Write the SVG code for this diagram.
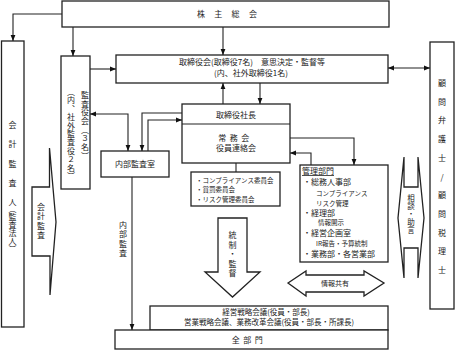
<svg xmlns="http://www.w3.org/2000/svg" width="456" height="351" viewBox="0 0 456 351">
<style>
.b{fill:#fff;stroke:#222;stroke-width:1.3}
.c{fill:none;stroke:#222;stroke-width:1.1}
.t{font-family:"Noto Sans CJK JP","Noto Sans",sans-serif;font-size:8px;fill:#222}
.s{font-size:6.5px}
.m{text-anchor:middle}
.v{writing-mode:vertical-rl;text-orientation:upright}
</style>
<defs>
<marker id="ah" viewBox="0 0 10 10" refX="10" refY="5" markerWidth="6" markerHeight="6" markerUnits="userSpaceOnUse" orient="auto-start-reverse"><path d="M0,1 L10,5 L0,9z" fill="#111"/></marker>
</defs>
<rect width="456" height="351" fill="#fff"/>

<g id="kabunushi">
<rect class="b" x="62" y="1" width="327" height="26"/>
<text class="t" x="197" y="17" letter-spacing="9.3">株主総会</text>
</g>

<g id="kaikei-kansanin">
<rect class="b" x="1.5" y="41" width="22.5" height="286"/>
<text class="t v" x="12.5" y="121" letter-spacing="11.3">会計監査人</text>
<text class="t v" x="12.5" y="205">（監査法人）</text>
</g>

<g id="kansayakukai">
<rect class="b" x="61" y="56" width="29" height="133"/>
<text class="t v" x="85" y="91" letter-spacing="0.7">監査役会（３名）</text>
<text class="t v" x="71" y="88" letter-spacing="0.4">（内、社外監査役２名）</text>
</g>

<g id="torishimariyakukai">
<rect class="b" x="116" y="55" width="272" height="28"/>
<text class="t m" x="252" y="65">取締役会(取締役7名)　意思決定・監督等</text>
<text class="t m" x="251" y="76">(内、社外取締役1名)</text>
</g>

<g id="komon">
<rect class="b" x="430" y="42" width="24" height="267"/>
<text class="t v" x="442" y="79" letter-spacing="10.7">顧問弁護士/顧問税理士</text>
</g>

<g id="shacho">
<rect class="b" x="182" y="104" width="108" height="59"/>
<line class="c" x1="182" y1="124" x2="290" y2="124"/>
<text class="t m" x="236" y="117.5">取締役社長</text>
<text class="t m" x="235.5" y="141" letter-spacing="3.5">常務会</text>
<text class="t m" x="236" y="151">役員連絡会</text>
</g>

<g id="iinkai">
<rect class="b" x="191" y="172" width="89" height="34"/>
<text class="t s" x="196" y="182.5">・コンプライアンス委員会</text>
<text class="t s" x="196" y="192">・賞罰委員会</text>
<text class="t s" x="196" y="201.5">・リスク管理委員会</text>
</g>

<g id="naibu-kansashitsu">
<rect class="b" x="101" y="151" width="68" height="26"/>
<text class="t m" x="135" y="167">内部監査室</text>
</g>

<g id="kanri-bumon">
<rect class="b" x="300" y="165" width="88" height="97"/>
<text class="t" x="302" y="174" text-decoration="underline">管理部門</text>
<text class="t" x="303" y="185">・総務人事部</text>
<text class="t s" x="316" y="195.5">コンプライアンス</text>
<text class="t s" x="316" y="205.5">リスク管理</text>
<text class="t" x="303" y="216">・経理部</text>
<text class="t s" x="318" y="224.5">情報開示</text>
<text class="t" x="303" y="236">・経営企画室</text>
<text class="t s" x="316" y="245.5">IR報告・予算統制</text>
<text class="t" x="303" y="257">・業務部・各営業部</text>
</g>

<g id="kaikei-kansa">
<polygon class="b" points="32,187 49.5,187 49.5,148 56,222 50,295 50,256 32,256"/>
<text class="t v" x="41" y="203" letter-spacing="1.3">会計監査</text>
</g>

<g id="tosei-kantoku">
<polygon class="b" points="218,218 247,218 247,272 260,272 232.5,297 205,272 218,272"/>
<text class="t v" x="232.5" y="231" letter-spacing="1.5">統制・監督</text>
</g>

<g id="sodan-jogen">
<polygon class="b" points="404,157 404,187 418,187 418,157 424,218 418,278 418,248 404,248 404,278 398,218"/>
<text class="t v" x="411" y="194.5" letter-spacing="0.6" style="font-size:7.5px">相談・助言</text>
</g>

<g id="joho-kyoyu">
<polygon class="b" points="288,283 306,271 306,275 364,275 364,271 384,283 364,296 364,292 306,292 306,296"/>
<text class="t m" x="335" y="286" style="font-size:7px">情報共有</text>
</g>

<g id="senryaku-kaigi">
<rect class="b" x="150" y="306" width="238" height="24"/>
<text class="t m" x="266" y="314.5" style="font-size:7.5px">経営戦略会議(役員・部長)</text>
<text class="t m" x="269" y="324.5" style="font-size:7.5px">営業戦略会議、業務改革会議(役員・部長・所課長)</text>
</g>

<g id="zenbumon">
<rect class="b" x="115" y="330" width="273" height="19"/>
<text class="t m" x="249" y="343" letter-spacing="3.5">全部門</text>
</g>

<g id="naibu-kansa-label">
<text class="t v" x="123" y="221" letter-spacing="1.3">内部監査</text>
</g>

<g id="connectors">
<path class="c" d="M62,14 H13 V41" marker-end="url(#ah)"/>
<path class="c" d="M73,27 V56" marker-end="url(#ah)"/>
<path class="c" d="M223,27 V55" marker-end="url(#ah)"/>
<path class="c" d="M90,69 H116" marker-end="url(#ah)"/>
<path class="c" d="M388,68 H430" marker-start="url(#ah)" marker-end="url(#ah)"/>
<path class="c" d="M260,83 V104" marker-end="url(#ah)"/>
<path class="c" d="M223,104 V83" marker-end="url(#ah)"/>
<path class="c" d="M90,114 H128 V151" marker-start="url(#ah)" marker-end="url(#ah)"/>
<path class="c" d="M182,113 H142 V151" marker-end="url(#ah)"/>
<path class="c" d="M148,151 V120 H182" marker-end="url(#ah)"/>
<path class="c" d="M236,163 V172"/>
<path class="c" d="M290,138 H354 V165" marker-end="url(#ah)"/>
<path class="c" d="M311,165 V153 H290" marker-end="url(#ah)"/>
<path class="c" d="M132,177 V330" marker-end="url(#ah)"/>
</g>
</svg>
